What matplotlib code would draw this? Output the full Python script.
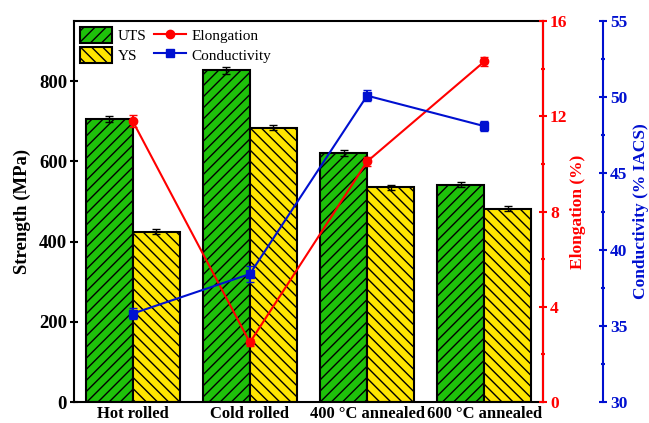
import numpy as np
import matplotlib
matplotlib.use('Agg')
import matplotlib.pyplot as plt
from matplotlib.lines import Line2D

plt.rcParams['font.family'] = 'Liberation Serif'
plt.rcParams['hatch.linewidth'] = 1.0

categories = ['Hot rolled', 'Cold rolled', '400 °C annealed', '600 °C annealed']
uts = [705, 827, 621, 542]
uts_err = [7, 8, 7, 6]
ys = [425, 684, 535, 482]
ys_err = [7, 6, 7, 6]
elongation = [11.8, 2.5, 10.1, 14.3]
elongation_err = [0.25, 0.15, 0.2, 0.2]
conductivity = [35.8, 38.4, 50.1, 48.1]
conductivity_err = [0.35, 0.5, 0.35, 0.35]

green = '#1ec10a'
yellow = '#ffe600'
red = '#ff0000'
blue = '#0010d0'

fig = plt.figure(figsize=(6.49, 4.23), dpi=100)
ax = fig.add_axes([74 / 649, 21 / 423, 469 / 649, 381 / 423])

x = np.arange(len(categories))
w = 0.4
b1 = ax.bar(x - w / 2, uts, w, color=green, edgecolor='black', hatch='///',
            linewidth=1.5, yerr=uts_err, capsize=3,
            error_kw=dict(ecolor='black', elinewidth=1, capthick=1), label='UTS')
b2 = ax.bar(x + w / 2, ys, w, color=yellow, edgecolor='black', hatch='\\\\\\',
            linewidth=1.5, yerr=ys_err, capsize=3,
            error_kw=dict(ecolor='black', elinewidth=1, capthick=1), label='YS')
ax.set_xlim(-0.5, 3.5)
ax.set_ylim(0, 950)
ax.set_yticks([0, 200, 400, 600, 800])
ax.set_xticks(x)
ax.set_xticklabels(categories)
ax.tick_params(axis='x', length=0, labelsize=12, pad=3)
ax.tick_params(axis='y', direction='inout', length=6, width=1.5,
               labelsize=13.5, pad=2)
for lab in ax.get_xticklabels() + ax.get_yticklabels():
    lab.set_fontweight('bold')
ax.set_ylabel('Strength (MPa)', fontsize=13.5, fontweight='bold', labelpad=6)
for s in ax.spines.values():
    s.set_linewidth(1.5)

ax2 = ax.twinx()
ax2.errorbar(x, elongation, yerr=elongation_err, color=red, marker='o',
             markersize=6, lw=1.5, capsize=3)
ax2.set_ylim(0, 16)
ax2.set_yticks([0, 4, 8, 12, 16])
ax2.set_yticks([2, 6, 10, 14], minor=True)
ax2.spines['right'].set_color(red)
ax2.spines['right'].set_linewidth(1.5)
ax2.tick_params(axis='y', which='major', colors=red, direction='inout',
                length=6, width=1.5, labelsize=12.5, pad=2)
ax2.tick_params(axis='y', which='minor', colors=red, direction='inout',
                length=3, width=1.5)
for lab in ax2.get_yticklabels():
    lab.set_fontweight('bold')
ax2.set_ylabel('Elongation (%)', fontsize=12.5, fontweight='bold', color=red,
               labelpad=2)

ax3 = ax.twinx()
ax3.spines['right'].set_position(('axes', 1 + 60 / 469))
ax3.errorbar(x, conductivity, yerr=conductivity_err, color=blue,
             marker='s', markersize=6, lw=1.5, capsize=3)
ax3.set_ylim(30, 55)
ax3.set_yticks([30, 35, 40, 45, 50, 55])
ax3.set_yticks([32.5, 37.5, 42.5, 47.5, 52.5], minor=True)
ax3.spines['right'].set_color(blue)
ax3.spines['right'].set_linewidth(1.5)
ax3.tick_params(axis='y', which='major', colors=blue, direction='inout',
                length=6, width=1.5, labelsize=12.5, pad=2)
ax3.tick_params(axis='y', which='minor', colors=blue, direction='inout',
                length=3, width=1.5)
for lab in ax3.get_yticklabels():
    lab.set_fontweight('bold')
ax3.set_ylabel('Conductivity (% IACS)', fontsize=12.5, fontweight='bold',
               color=blue, labelpad=4)
for a in (ax2, ax3):
    a.spines['left'].set_visible(False)
    a.spines['top'].set_visible(False)
    a.spines['bottom'].set_visible(False)

h_el = Line2D([], [], color=red, marker='o', markersize=6, lw=1.5)
h_co = Line2D([], [], color=blue, marker='s', markersize=6, lw=1.5)
ax.legend([b1, b2, h_el, h_co], ['UTS', 'YS', 'Elongation', 'Conductivity'],
          ncol=2, loc='upper left', frameon=False, fontsize=11,
          handlelength=2.1, handleheight=1.2, handletextpad=0.35,
          columnspacing=0.5, labelspacing=0.25, borderaxespad=0.2,
          borderpad=0.2)

plt.savefig('out.png', dpi=100)
plt.close(fig)
